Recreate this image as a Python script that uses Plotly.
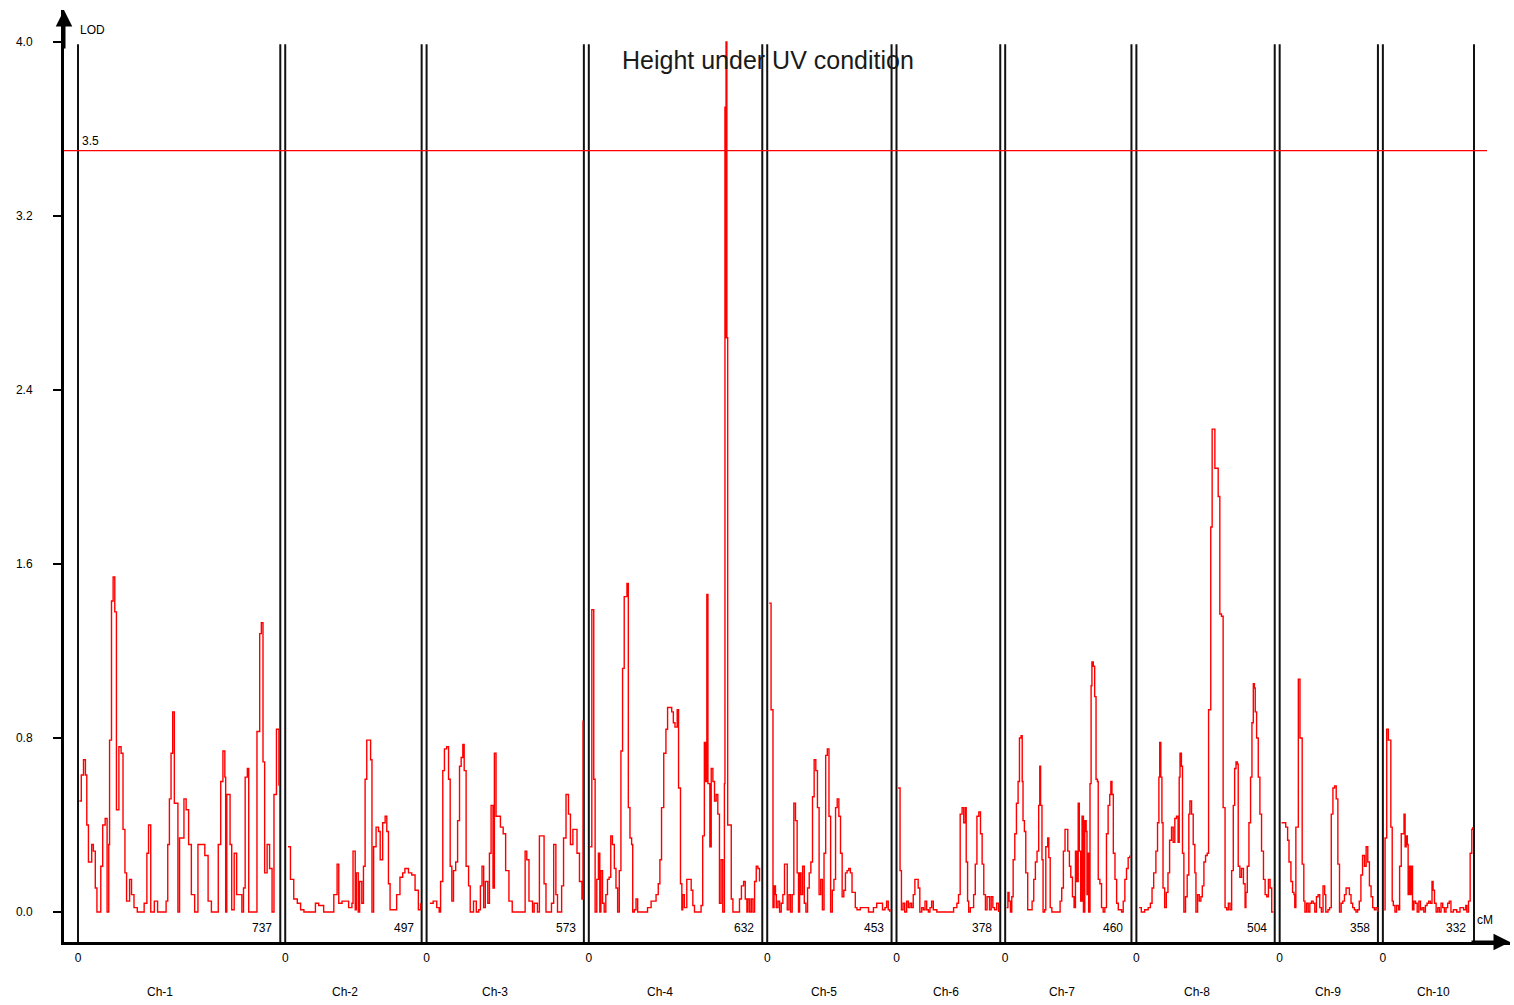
import plotly.graph_objects as go

# ---------------- data ----------------
title_text = "Height under UV condition"
chrom_names = ["Ch-1", "Ch-2", "Ch-3", "Ch-4", "Ch-5", "Ch-6", "Ch-7", "Ch-8", "Ch-9", "Ch-10"]
chrom_lengths = [737, 497, 573, 632, 453, 378, 460, 504, 358, 332]
ytick_vals = [0.0, 0.8, 1.6, 2.4, 3.2, 4.0]
ytick_text = ["0.0", "0.8", "1.6", "2.4", "3.2", "4.0"]
threshold = 3.5
y_label = "LOD"
x_unit = "cM"

ch1_pos = [5,12,20,27,32,38,50,56,63,69,81,83,90,99,106,112,115,122,128,134,140,149,157,164,171,177,188,195,204,216,235,241,251,257,265,278,290,302,321,327,333,339,345,351,364,370,386,394,403,413,425,437,450,462,474,486,499,511,520,528,535,538,542,554,560,569,578,597,603,609,617,622,646,652,662,668,674,680,689,698,707,714,723,732]
ch1_lod = [0.51,0.63,0.70,0.63,0.40,0.23,0.31,0.28,0.11,0.00,0.00,0.21,0.40,0.43,0.00,0.31,0.79,1.43,1.54,1.38,0.47,0.76,0.73,0.38,0.18,0.05,0.15,0.08,0.02,0.00,0.00,0.04,0.27,0.40,0.00,0.05,0.00,0.00,0.05,0.31,0.52,0.73,0.92,0.50,0.00,0.34,0.52,0.47,0.31,0.08,0.00,0.31,0.31,0.26,0.05,0.00,0.00,0.31,0.60,0.74,0.62,0.00,0.54,0.31,0.01,0.27,0.08,0.00,0.11,0.62,0.66,0.00,0.00,0.83,1.28,1.33,0.69,0.18,0.31,0.20,0.00,0.54,0.84,0.58]

ch2_pos = [10,19,31,44,56,68,92,110,122,140,170,177,189,195,207,231,243,247,255,259,266,271,279,285,291,297,306,311,316,322,331,340,346,355,364,370,376,382,394,406,418,428,436,449,461,473,485,493]
ch2_lod = [0.30,0.15,0.06,0.04,0.01,0.00,0.00,0.04,0.03,0.00,0.00,0.08,0.22,0.04,0.05,0.02,0.04,0.28,0.01,0.18,0.00,0.14,0.04,0.21,0.61,0.79,0.79,0.70,0.00,0.30,0.39,0.37,0.24,0.41,0.44,0.37,0.13,0.01,0.01,0.08,0.16,0.18,0.20,0.18,0.17,0.10,0.01,0.04]

ch3_pos = [12,24,37,46,51,59,65,73,80,86,92,98,106,113,120,126,132,137,144,153,159,171,181,190,196,202,208,214,223,229,235,242,247,253,263,269,279,288,300,312,355,359,365,373,386,392,404,411,420,428,435,447,455,463,471,477,487,492,499,508,517,524,533,541,548,557,566,570]
ch3_lod = [0.04,0.05,0.02,0.00,0.14,0.65,0.75,0.76,0.61,0.21,0.05,0.19,0.23,0.42,0.67,0.71,0.77,0.65,0.21,0.12,0.00,0.05,0.00,0.01,0.12,0.21,0.02,0.14,0.04,0.27,0.49,0.11,0.73,0.44,0.44,0.39,0.36,0.19,0.05,0.00,0.00,0.28,0.24,0.05,0.00,0.04,0.00,0.35,0.35,0.13,0.00,0.00,0.04,0.31,0.08,0.00,0.00,0.12,0.34,0.54,0.45,0.31,0.38,0.38,0.27,0.14,0.06,0.88]

ch4_pos = [5,11,16,18,23,29,35,40,44,50,56,62,68,74,80,86,93,99,105,111,117,123,129,139,144,150,156,160,166,172,178,208,214,227,245,253,259,265,273,281,287,296,302,308,314,322,327,334,339,342,348,357,367,373,379,385,403,409,415,421,426,430,434,441,446,452,458,464,470,476,482,488,494,496,498,500,503,506,510,514,519,525,534,541,549,556,564,570,576,580,586,592,598,604,610,616,622,628]
ch4_lod = [0.30,1.39,1.39,0.61,0.00,0.15,0.27,0.00,0.19,0.04,0.00,0.08,0.15,0.16,0.35,0.31,0.20,0.11,0.00,0.19,0.74,1.12,1.45,1.51,0.48,0.34,0.31,0.00,0.01,0.06,0.00,0.00,0.02,0.05,0.08,0.13,0.24,0.48,0.73,0.84,0.94,0.94,0.92,0.87,0.85,0.93,0.57,0.13,0.01,0.08,0.02,0.15,0.15,0.10,0.03,0.00,0.00,0.03,0.35,0.78,0.60,1.46,0.59,0.30,0.66,0.60,0.51,0.54,0.45,0.04,0.24,0.00,0.59,3.70,2.64,4.00,2.64,0.40,0.40,0.40,0.06,0.00,0.00,0.00,0.06,0.12,0.14,0.06,0.00,0.06,0.00,0.06,0.00,0.14,0.21,0.20,0.14]

ch5_pos = [7,11,14,19,21,25,30,33,39,45,51,57,63,69,73,79,85,91,97,103,109,114,118,123,129,135,141,147,153,159,165,171,177,183,189,195,201,207,213,219,225,231,237,243,249,255,261,267,273,279,285,291,297,303,309,315,321,327,339,351,369,387,399,411,420,429,435,441,447]
ch5_lod = [1.42,1.42,0.93,0.93,0.02,0.12,0.08,0.02,0.05,0.00,0.04,0.08,0.22,0.22,0.01,0.08,0.00,0.08,0.50,0.42,0.18,0.00,0.18,0.08,0.21,0.04,0.00,0.11,0.18,0.23,0.53,0.70,0.65,0.48,0.08,0.15,0.01,0.27,0.72,0.75,0.44,0.00,0.10,0.15,0.48,0.52,0.44,0.27,0.07,0.10,0.18,0.19,0.20,0.18,0.09,0.09,0.02,0.01,0.02,0.02,0.00,0.02,0.04,0.04,0.01,0.02,0.05,0.01,0.00]

ch6_pos = [6,10,13,18,24,30,37,43,49,55,61,67,73,79,85,92,98,104,110,116,122,128,134,147,196,208,220,226,232,239,245,251,254,259,263,269,281,287,293,300,306,312,318,324,330,339,345,351,357,365,372]
ch6_lod = [0.57,0.57,0.19,0.01,0.04,0.00,0.05,0.02,0.04,0.02,0.08,0.15,0.15,0.11,0.00,0.02,0.01,0.05,0.01,0.00,0.02,0.05,0.01,0.00,0.00,0.02,0.04,0.08,0.45,0.48,0.41,0.48,0.23,0.05,0.00,0.02,0.08,0.22,0.44,0.46,0.36,0.22,0.08,0.01,0.07,0.01,0.07,0.02,0.01,0.04,0.00]

ch7_pos = [5,10,14,19,24,29,35,41,47,52,58,62,65,70,75,82,92,98,104,110,116,122,126,129,134,138,144,148,155,159,164,170,188,200,206,212,218,225,228,234,239,245,251,256,261,266,270,275,280,285,290,295,298,302,304,309,313,316,321,326,331,336,339,345,351,357,363,369,375,381,385,389,394,400,406,412,424,430,436,442,448,454]
ch7_lod = [0.02,0.09,0.05,0.00,0.07,0.24,0.36,0.50,0.60,0.80,0.81,0.60,0.42,0.37,0.18,0.01,0.01,0.05,0.15,0.23,0.28,0.49,0.67,0.49,0.24,0.00,0.01,0.30,0.34,0.25,0.02,0.00,0.00,0.05,0.11,0.28,0.38,0.38,0.28,0.21,0.16,0.07,0.02,0.28,0.14,0.50,0.28,0.05,0.44,0.00,0.42,0.37,0.08,0.27,0.00,0.59,1.04,1.15,1.13,0.99,0.61,0.60,0.15,0.13,0.02,0.00,0.02,0.36,0.49,0.54,0.60,0.54,0.27,0.15,0.04,0.01,0.00,0.05,0.15,0.20,0.25,0.26]

ch8_pos = [10,18,30,43,51,57,63,71,77,82,85,89,93,97,103,109,115,121,128,134,140,146,152,156,159,164,168,173,179,185,191,195,201,207,213,217,223,229,235,240,246,252,258,263,271,276,282,286,295,298,304,310,316,323,329,335,341,347,353,358,363,368,371,377,383,390,396,399,404,410,416,421,426,430,433,438,444,450,456,463,469,475,481,487,493,499]
ch8_lod = [0.02,0.00,0.01,0.02,0.04,0.11,0.18,0.28,0.41,0.62,0.78,0.62,0.41,0.11,0.02,0.09,0.18,0.33,0.39,0.32,0.43,0.44,0.32,0.62,0.73,0.67,0.27,0.00,0.07,0.17,0.45,0.51,0.45,0.31,0.18,0.00,0.08,0.05,0.07,0.12,0.23,0.26,0.27,0.93,1.77,2.22,2.22,2.04,2.04,1.91,1.37,1.36,0.48,0.02,0.01,0.04,0.01,0.19,0.49,0.66,0.69,0.68,0.21,0.16,0.20,0.13,0.02,0.09,0.21,0.41,0.62,0.87,1.05,1.03,0.92,0.80,0.62,0.45,0.28,0.15,0.08,0.07,0.15,0.11,0.00,0.00]

ch9_pos = [7,17,22,29,34,41,47,52,55,59,64,68,74,77,82,88,92,98,104,110,116,122,128,134,140,146,152,158,164,168,176,182,188,194,200,206,212,218,224,230,236,242,248,254,260,266,272,278,284,290,296,302,309,315,321,327,333,339,345,351,357]
ch9_lod = [0.41,0.41,0.39,0.33,0.23,0.14,0.09,0.08,0.02,0.39,0.39,1.07,0.80,0.80,0.22,0.05,0.00,0.04,0.00,0.04,0.05,0.04,0.00,0.07,0.08,0.02,0.00,0.12,0.08,0.00,0.01,0.02,0.45,0.57,0.58,0.52,0.22,0.00,0.04,0.05,0.08,0.11,0.11,0.08,0.04,0.02,0.01,0.00,0.01,0.05,0.17,0.26,0.21,0.30,0.23,0.12,0.07,0.02,0.01,0.02,0.00]

ch10_pos = [5,8,14,20,25,29,34,38,44,50,57,61,67,72,77,81,85,89,92,96,101,105,108,113,119,125,131,137,143,149,155,161,167,173,179,183,188,194,200,206,212,218,224,230,236,242,248,257,269,281,294,302,306,312,318,324,327]
ch10_lod = [0.01,0.34,0.84,0.79,0.79,0.39,0.05,0.03,0.00,0.03,0.01,0.21,0.36,0.36,0.45,0.30,0.35,0.31,0.08,0.21,0.08,0.21,0.01,0.05,0.04,0.00,0.05,0.01,0.02,0.00,0.03,0.04,0.05,0.04,0.14,0.10,0.04,0.00,0.02,0.00,0.04,0.02,0.00,0.02,0.04,0.05,0.00,0.01,0.00,0.02,0.01,0.03,0.00,0.05,0.27,0.38,0.39]

positions = [ch1_pos, ch2_pos, ch3_pos, ch4_pos, ch5_pos, ch6_pos, ch7_pos, ch8_pos, ch9_pos, ch10_pos]
lods = [ch1_lod, ch2_lod, ch3_lod, ch4_lod, ch5_lod, ch6_lod, ch7_lod, ch8_lod, ch9_lod, ch10_lod]

# ---------------- layout geometry ----------------
W, H = 1514, 1005
M_L, M_R, M_T, M_B = 64, 4, 10, 63
GAP = 18  # cM gap between chromosomes
offsets = []
acc = 0
for L in chrom_lengths:
    offsets.append(acc)
    acc += L + GAP
total_end = offsets[-1] + chrom_lengths[-1]

plot_w = W - M_L - M_R
first_px = 14          # pixels from y axis to first chromosome
last_px_right = 36     # pixels from last chromosome end to plot right edge
px_per_cm = (plot_w - first_px - last_px_right) / total_end
X0 = -first_px / px_per_cm
X1 = total_end + last_px_right / px_per_cm

Y0, Y1 = -0.138, 4.147
plot_h = H - M_T - M_B
px_per_lod = plot_h / (Y1 - Y0)

# pixel nudges for the chromosome name labels (layout only)
name_xshift = [-19, -8, -10, -16, -5, -2, -6, -9, -1, 5]

# ---------------- traces ----------------
xs, ys = [], []
for off, p, v in zip(offsets, positions, lods):
    for a, b in zip(p, v):
        xs.append(off + a)
        ys.append(b)
    xs.append(None)
    ys.append(None)

fig = go.Figure()
fig.add_trace(go.Scatter(
    x=xs, y=ys, mode="lines", line=dict(color="#ff0000", width=1.4, shape="hv"),
    connectgaps=False, showlegend=False, hoverinfo="skip"))

shapes = []
for off, L in zip(offsets, chrom_lengths):
    for xv in (off, off + L):
        shapes.append(dict(type="line", xref="x", yref="y", x0=xv, x1=xv,
                           y0=Y0, y1=3.99, line=dict(color="#111111", width=2),
                           layer="below"))
shapes.append(dict(type="line", xref="x", yref="y", x0=X0, x1=total_end + 13 / px_per_cm,
                   y0=threshold, y1=threshold, line=dict(color="#ff0000", width=1.2),
                   layer="above"))

small_font = dict(family="Liberation Sans, Arial, sans-serif", size=12, color="#000000")
annotations = []
for off, L, name, sh in zip(offsets, chrom_lengths, chrom_names, name_xshift):
    annotations.append(dict(x=off + L / 2, y=-59 / plot_h, xref="x", yref="paper",
                            text=name, showarrow=False, font=small_font, xshift=sh))
    annotations.append(dict(x=off + L, y=Y0 + 14 / px_per_lod, xref="x", yref="y",
                            text=str(L), showarrow=False, font=small_font,
                            xanchor="right", xshift=-6))
annotations.append(dict(x=total_end, y=Y0 + 22 / px_per_lod, xref="x", yref="y",
                        text=x_unit, showarrow=False, font=small_font,
                        xanchor="left", xshift=1))
annotations.append(dict(x=0, y=Y1 - 20 / px_per_lod, xref="x", yref="y",
                        text=y_label, showarrow=False, font=small_font,
                        xanchor="left", xshift=0))
annotations.append(dict(x=0, y=threshold, xref="x", yref="y", text=str(threshold),
                        showarrow=False, font=small_font, xanchor="left",
                        yanchor="bottom", xshift=2, yshift=1))
annotations.append(dict(x=(768 - M_L) / plot_w, y=Y1 - 50 / px_per_lod, xref="paper", yref="y",
                        text=title_text, showarrow=False,
                        font=dict(family="Liberation Sans, Arial, sans-serif", size=25,
                                  color="#1a1a1a")))
# axis arrowheads
annotations.append(dict(x=X0, y=Y1, xref="x", yref="y", ax=0, ay=40, text="",
                        showarrow=True, arrowhead=2, arrowsize=1.1, arrowwidth=3,
                        arrowcolor="#000000"))
annotations.append(dict(x=X1, y=Y0, xref="x", yref="y", ax=-40, ay=0, text="",
                        showarrow=True, arrowhead=2, arrowsize=1.1, arrowwidth=3,
                        arrowcolor="#000000"))

fig.update_layout(
    width=W, height=H,
    margin=dict(l=M_L, r=M_R, t=M_T, b=M_B, pad=0),
    paper_bgcolor="white", plot_bgcolor="white",
    shapes=shapes, annotations=annotations,
    xaxis=dict(range=[X0, X1], showgrid=False, zeroline=False, showline=True,
               linecolor="#000000", linewidth=3, ticks="",
               tickvals=offsets, ticktext=["0"] * len(offsets),
               tickfont=small_font, ticklabelstandoff=3, fixedrange=True),
    yaxis=dict(range=[Y0, Y1], showgrid=False, zeroline=False, showline=True,
               linecolor="#000000", linewidth=3, ticks="outside", ticklen=8,
               tickwidth=2, tickcolor="#000000", tickvals=ytick_vals,
               ticktext=ytick_text, tickfont=small_font, ticklabelstandoff=18,
               fixedrange=True),
)

fig.write_html("out.html")
